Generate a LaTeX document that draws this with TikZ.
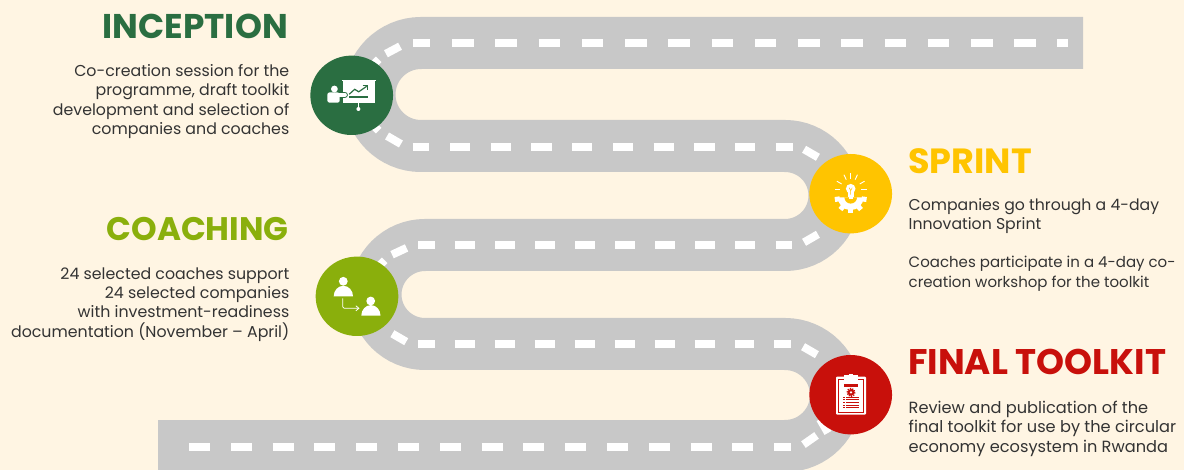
\documentclass[tikz,border=0pt]{standalone}
\usepackage{fontspec}
\setmainfont{Poppins}
\usetikzlibrary{arrows.meta, shapes.geometric}

\definecolor{paper}{HTML}{FFF5E3}
\definecolor{roadgray}{HTML}{C8C8C8}
\definecolor{inceptgreen}{HTML}{2A6E41}
\definecolor{sprintyellow}{HTML}{FFC400}
\definecolor{coacholive}{HTML}{8AAF0C}
\definecolor{finalred}{HTML}{C8100B}
\definecolor{bodyink}{HTML}{333333}

\tikzset{
  stopdot/.style={ellipse, minimum width=82.7pt, minimum height=79.4pt, inner sep=0pt},
  stagetitle/.style={inner sep=0pt, font=\fontsize{#1}{36}\selectfont\bfseries},
  stagetext/.style={inner sep=0pt, text=bodyink, font=\fontsize{#1}{19.3}\selectfont},
  centreline/.style={white, line width=8pt},
}

\begin{document}
\begin{tikzpicture}[x=1pt, y=-1pt]

\useasboundingbox (0,0) rectangle (1184,470);
\clip (0,0) rectangle (1184,470);
\fill[paper] (0,0) rectangle (1184,470);

% Road
\draw[roadgray, line width=52pt]
  (1083,43) -- (421,43) arc (-90:-270:51.5) -- (785,146) arc (-90:90:49.5)
  -- (425,245) arc (-90:-270:49.5) -- (785,344) arc (-90:90:51) -- (158,446);

% Centre line, straight runs
\foreach \xa/\xb/\yy/\don/\doff in {452/1035.7/43.5/21.6/21.65, 450/755.2/146.7/20.3/20.4,
    454.7/755.3/245/20/20.1, 454.7/754.3/344.3/20/20, 189/753/446.5/21/20.8} {
  \draw[centreline, dash pattern=on \don pt off \doff pt] (\xa,\yy) -- (\xb,\yy);
}
\foreach \xa/\xb/\yy in {412.7/430/43.5, 1057.3/1068.3/43.5, 412.7/429.3/146.7, 775.7/792.7/146.7,
    418.3/435/245, 775.7/792.3/245, 418.3/435/344.3, 774.3/791/344.3, 774/790.8/446.5} {
  \draw[centreline] (\xa,\yy) -- (\xb,\yy);
}

% Centre line, on the bends
\foreach \cx/\cy/\ang in {393/50/28, 373/65/45, 394/140/-30, 373/125/-45, 811/153.3/-30, 811/238.3/30,
    399.3/251.3/25, 379/266/45, 399.3/337.7/-30, 810/350.7/-30, 824/426/-60, 810/440/35} {
  \fill[white, shift={(\cx,\cy)}, rotate=\ang] (-8,-4) rectangle (8,4);
}

% Stops
\node[stopdot, fill=inceptgreen] (inception) at (351.7,95.3) {};
\node[stopdot, fill=sprintyellow] (sprint) at (850.7,193.7) {};
\node[stopdot, fill=coacholive] (coaching) at (357,296.3) {};
\node[stopdot, fill=finalred] (final) at (850.7,394.7) {};

% Inception icon
\begin{scope}[shift={(inception.center)}]
  \fill[white] (-10,-15.5) rectangle (24,-14);
  \fill[white] (-9,-14) rectangle (23.3,7.3);
  \draw[inceptgreen, line width=6.4pt, line cap=round] (-14,-0.5) -- (-7,-0.5);
  \fill[white] (-17.3,-6.3) circle (3.4);
  \fill[white, rounded corners=2pt] (-24.3,7.3) -- (-24.3,-2.8) -- (-12,-2.8) -- (-12,7.3) -- cycle;
  \draw[white, line width=4.4pt, line cap=round] (-14,-0.5) -- (-7,-0.5);
  \draw[white, line width=1.2pt] (6.7,7) -- (6.7,13);
  \fill[white] (6.7,13.7) circle (2);
  \draw[inceptgreen, line width=1.2pt] (-2.5,-1) -- (3,-6) -- (7,-3.5) -- (15,-9);
  \draw[inceptgreen, line width=1.2pt] (11,-9.5) -- (15.5,-9.5) -- (15.5,-5);
  \fill[inceptgreen] (-2.5,1) rectangle (16,2.3);
\end{scope}

% Sprint icon
\begin{scope}[shift={(sprint.center)}]
  \foreach \ang in {180,210,245,270,295,330,360} {
    \draw[white, line width=0.9pt] (0,-4.5) ++(\ang:10.5) -- ++(\ang:5.5);
  }
  \foreach \ang in {-8,-50,-90,-130,-172} {
    \fill[white, rotate around={\ang:(0,3.6)}] (11,1.1) rectangle (16,6.1);
  }
  \fill[white] (12.8,3.6) arc (0:180:12.8) -- cycle;
  \fill[sprintyellow] (6.3,3.6) arc (0:180:6.3) -- cycle;
  \fill[white] (0,-5) circle (4.8);
  \fill[white] (-3,-2) rectangle (3,3.2);
  \fill[white] (-2,3.6) rectangle (2,5.4);
  \draw[sprintyellow, line width=0.5pt] (-1.5,-6) -- (0,-3) -- (1.5,-6) (0,-3) -- (0,1);
\end{scope}

% Coaching icon
\begin{scope}[shift={(coaching.center)}]
  \fill[white] (-13.7,-15) circle (4.4);
  \fill[white] (-23.3,0) -- (-4,0) arc (0:-180:9.65 and 10.5) -- cycle;
  \fill[white] (13.7,4.7) circle (4.4);
  \fill[white] (4.3,19.3) -- (23.5,19.3) arc (0:-180:9.6 and 10.5) -- cycle;
  \draw[white, line width=0.8pt, rounded corners=1.5pt, -{Straight Barb[length=3pt,width=5pt]}] (-14.3,2) -- (-14.3,12) -- (2.5,12);
\end{scope}

% Final toolkit icon
\begin{scope}[shift={(final.center)}]
  \fill[white, rounded corners=1pt] (-14.7,-18) rectangle (15.3,20);
  \draw[finalred, line width=0.7pt] (-12.5,-15) rectangle (13,18);
  \fill[white] (-6.5,-19.5) rectangle (7,-14.5);
  \fill[white] (-2,-20.5) rectangle (2.5,-18);
  \fill[finalred] (-6.5,-10.7) rectangle (7,-8);
  \fill[finalred] (0.3,-2.3) circle (3.4);
  \draw[finalred, line width=1.4pt, dash pattern=on 1.2pt off 1.2pt] (0.3,-2.3) circle (3.9);
  \fill[white] (0.3,-2.3) circle (1.3);
  \foreach \yy in {2.7,5.2,7.7,10.2,12.7} {
    \draw[finalred, line width=0.8pt] (-7.3,\yy) -- (-5.8,\yy);
    \draw[finalred, line width=0.8pt] (-4.5,\yy) -- (7.8,\yy);
  }
\end{scope}

% Titles
\node[stagetitle=34.3, anchor=base east, text=inceptgreen] (inceptiontitle) at (288,39) {INCEPTION};
\node[stagetitle=35, anchor=base west, text=sprintyellow] (sprinttitle) at (908,174) {SPRINT};
\node[stagetitle=32.6, anchor=base east, text=coacholive] (coachingtitle) at (289,241) {COACHING};
\node[stagetitle=35.6, anchor=base west, text=finalred] (finaltitle) at (908,375) {FINAL TOOLKIT};

% Texts
\node[stagetext=15.8, anchor=north east, align=right] (inceptiontext) at (289.5,64.3) {Co-creation session for the\\programme, draft toolkit\\development and selection of\\companies and coaches};
\node[stagetext=15.7, anchor=north west, align=left] (sprinttext) at (908.5,198.3) {Companies go through a 4-day\\Innovation Sprint};
\node[stagetext=15, anchor=north west, align=left] (sprintnote) at (908.5,256.2) {Coaches participate in a 4-day co-\\creation workshop for the toolkit};
\node[stagetext=15.8, anchor=north east, align=right] (coachingtext) at (289.5,267.3) {24 selected coaches support\\24 selected companies\\with investment-readiness\\documentation (November – April)};
\node[stagetext=16.2, anchor=north west, align=left] (finaltext) at (908.5,401) {Review and publication of the\\final toolkit for use by the circular\\economy ecosystem in Rwanda};

\end{tikzpicture}
\end{document}
